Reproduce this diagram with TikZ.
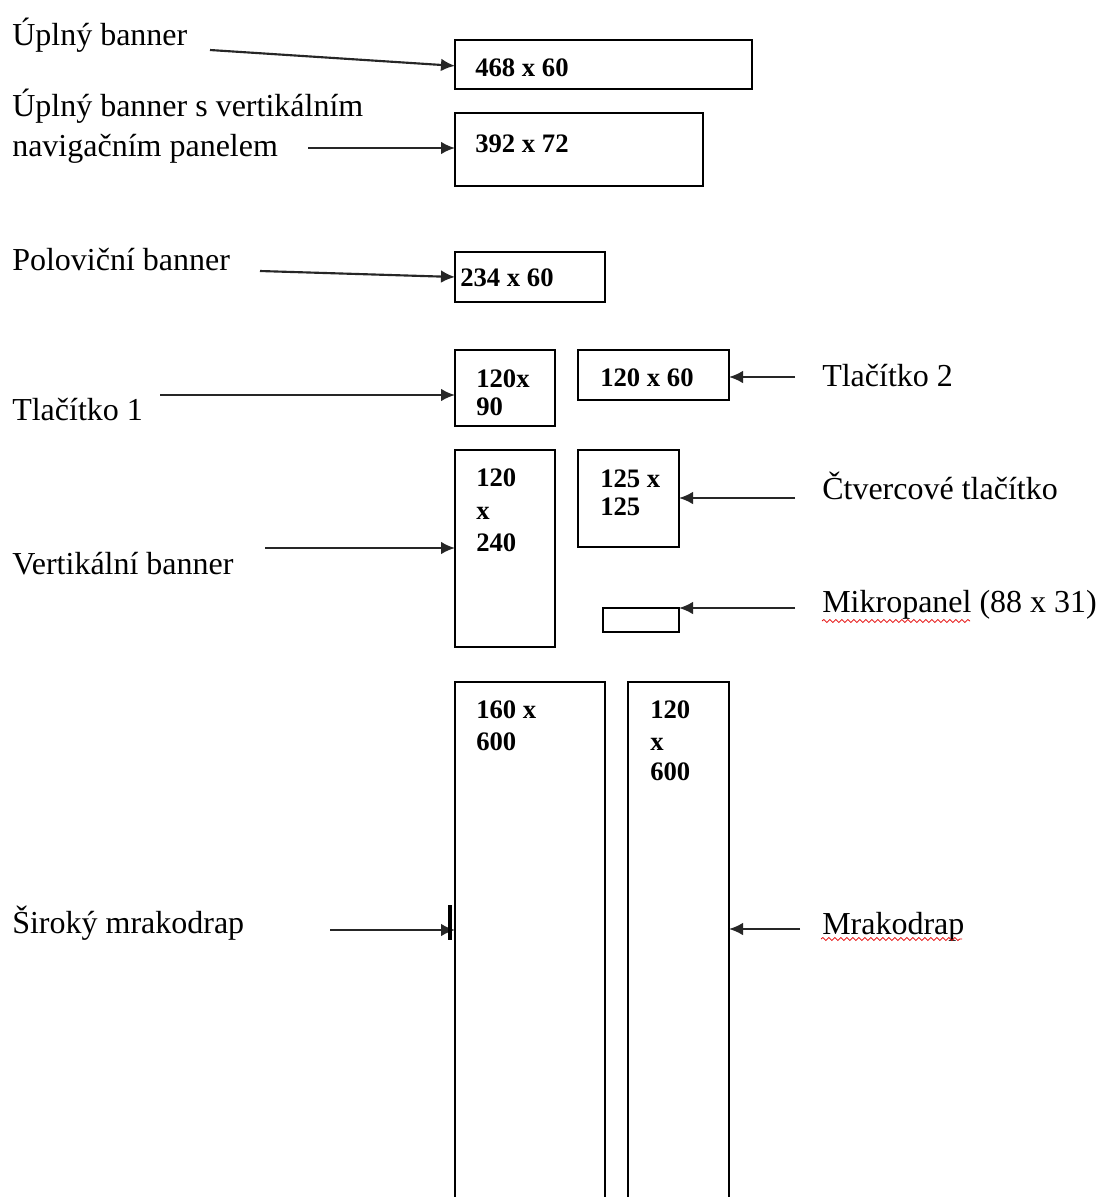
\documentclass[tikz,border=0pt]{standalone}
\usepackage{fontspec}
\setmainfont{Liberation Serif}
\usetikzlibrary{arrows.meta,decorations.pathmorphing}

\tikzset{
  box/.style={draw=black, line width=1.5pt, inner sep=0pt, outer sep=0pt},
  dim/.style={font=\fontsize{20}{24}\bfseries\selectfont, inner sep=0pt, anchor=base west},
  lbl/.style={font=\fontsize{24}{28}\selectfont, inner sep=0pt, anchor=base west},
  arr/.style={draw=black!85, line width=1.6pt, -{Latex[length=10.5pt,width=9.5pt]}},
  squiggle/.style={draw=red!90!black, line width=0.6pt,
    decorate, decoration={snake, segment length=4.5pt, amplitude=1.1pt}}
}

\begin{document}
\begin{tikzpicture}[x=0.75pt, y=-0.75pt]
\useasboundingbox (0,0) rectangle (1101,1197);
\clip (0,0) rectangle (1101,1197);
\fill[white] (0,0) rectangle (1101,1197);

% ---- banner boxes ----
\node[box, minimum width=222.75pt, minimum height=36.75pt] (b468) at (603.5,64.5) {};
\node[box, minimum width=186pt,    minimum height=54.75pt] (b392) at (579,149.5) {};
\node[box, minimum width=112.5pt,  minimum height=37.5pt]  (b234) at (530,277) {};
\node[box, minimum width=75pt,     minimum height=57pt]    (b12090) at (505,388) {};
\node[box, minimum width=113.25pt, minimum height=37.5pt]  (b12060) at (653.5,375) {};
\node[box, minimum width=75pt,     minimum height=147.75pt] (b120240) at (505,548.5) {};
\node[box, minimum width=75.75pt,  minimum height=72.75pt] (b125) at (628.5,498.5) {};
\node[box, minimum width=57pt,     minimum height=18pt]    (micro) at (641,620) {};
\node[box, minimum width=112.5pt,  minimum height=418.5pt] (b160600) at (530,961) {};
\node[box, minimum width=75.75pt,  minimum height=418.5pt] (b120600) at (678.5,961) {};

% ---- sizes written in the boxes ----
\node[dim] (t468) at (475,76) {468 x 60};
\node[dim] (t392) at (475,152) {392 x 72};
\node[dim] (t234) at (460,286) {234 x 60};
\node[dim] (t12090a) at (476,387) {120x};
\node[dim] (t12090b) at (476,415) {90};
\node[dim] (t12060) at (600,386) {120 x 60};
\node[dim] (t120240a) at (476,486) {120};
\node[dim] (t120240b) at (476,519) {x};
\node[dim] (t120240c) at (476,551) {240};
\node[dim] (t125a) at (600,487) {125 x};
\node[dim] (t125b) at (600,515) {125};
\node[dim] (t160a) at (476,718) {160 x};
\node[dim] (t160b) at (476,750) {600};
\node[dim] (t120600a) at (650,718) {120};
\node[dim] (t120600b) at (650,750) {x};
\node[dim] (t120600c) at (650,780) {600};

% ---- labels ----
\node[lbl] (l1) at (12,45) {Úplný banner};
\node[lbl] (l2a) at (12,116) {Úplný banner s vertikálním};
\node[lbl] (l2b) at (12,156) {navigačním panelem};
\node[lbl] (l3) at (12,270) {Poloviční banner};
\node[lbl] (l4) at (12,420) {Tlačítko 1};
\node[lbl] (l5) at (822,386) {Tlačítko 2};
\node[lbl] (l6) at (822,499) {Čtvercové tlačítko};
\node[lbl] (l7) at (12,574) {Vertikální banner};
\node[lbl] (l8) at (822,612) {Mikropanel (88 x 31)};
\node[lbl] (l9) at (12,933) {Široký mrakodrap};
\node[lbl] (l10) at (822,934) {Mrakodrap};

% spell-check underlines
\draw[squiggle] (822,621) -- (970,621);
\draw[squiggle] (821,939) -- (962,939);

% ---- connector start points ----
\coordinate (s1) at (210,50);
\coordinate (s2) at (308,148);
\coordinate (s3) at (260,271);
\coordinate (s4) at (160,395);
\coordinate (s5) at (795,377);
\coordinate (s6) at (795,498);
\coordinate (s7) at (265,548);
\coordinate (s8) at (795,608);
\coordinate (s9) at (330,930);
\coordinate (s10) at (800,929);

% ---- connectors ----
\draw[arr] (s1) -- ([yshift=-1pt]b468.west);
\draw[arr] (s2) -- (s2 -| b392.west);
\draw[arr] (s3) -- (b234.west);
\draw[arr] (s4) -- (s4 -| b12090.west);
\draw[arr] (s5) -- (s5 -| b12060.east);
\draw[arr] (s6) -- (s6 -| b125.east);
\draw[arr] (s7) -- (s7 -| b120240.west);
\draw[arr] (s8) -- (s8 -| micro.east);
\draw[arr] (s9) -- (s9 -| b160600.west);
\draw[arr] (s10) -- (s10 -| b120600.east);

% small mark beside the wide skyscraper arrow
\draw[line width=3pt] (450,905) -- (450,940);
\end{tikzpicture}
\end{document}
